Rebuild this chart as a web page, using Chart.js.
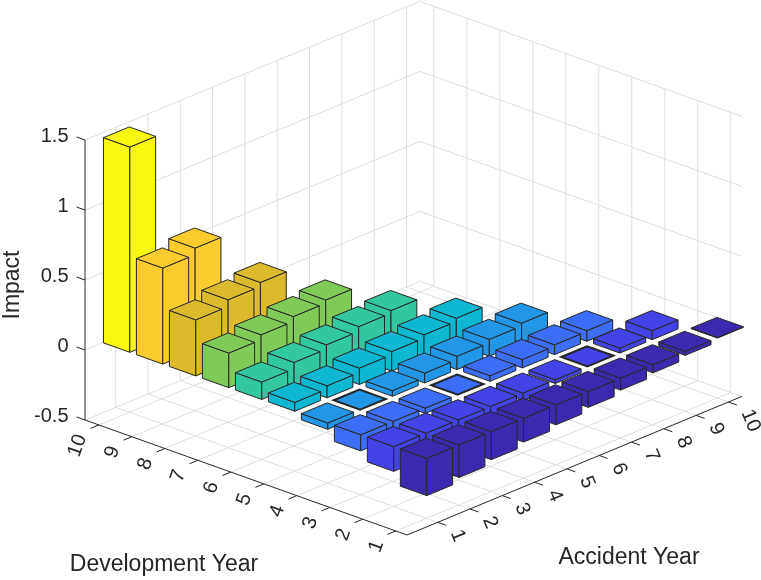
<!DOCTYPE html>
<html>
<head>
<meta charset="utf-8">
<script src="https://cdn.jsdelivr.net/npm/chart.js@4.4.1/dist/chart.umd.min.js"></script>
<style>
html,body{margin:0;padding:0;background:#ffffff;}
#wrap{width:761px;height:580px;position:relative;}
</style>
</head>
<body>
<div id="wrap"><canvas id="c" width="761" height="580"></canvas></div>
<script>
// ---------------- data ----------------
const accidentYears = [1,2,3,4,5,6,7,8,9,10];
const developmentYears = [1,2,3,4,5,6,7,8,9,10];
const accidentTickLabels = ['1','2','3','4','5','6','7','8','9','10'];
const developmentTickLabels = ['1','2','3','4','5','6','7','8','9','10'];
const impactTicks = [-0.5, 0, 0.5, 1, 1.5];
const impactTickLabels = ['-0.5','0','0.5','1','1.5'];

// Impact per development year, listed by accident year 1, 2, 3, ...
const impactDev1  = [-0.266,-0.232,-0.200,-0.170,-0.142,-0.113,-0.085,-0.057,-0.028,0.004];
const impactDev2  = [-0.177,-0.145,-0.115,-0.085,-0.055,-0.027,0,0.035,0.064];
const impactDev3  = [-0.115,-0.077,-0.038,0,0.040,0.060,0.070,0.075];
const impactDev4  = [-0.045,0,0.040,0.070,0.095,0.120,0.140];
const impactDev5  = [0.063,0.086,0.117,0.140,0.164,0.187];
const impactDev6  = [0.124,0.169,0.199,0.234,0.253];
const impactDev7  = [0.247,0.282,0.317,0.340];
const impactDev8  = [0.400,0.448,0.476];
const impactDev9  = [0.686,0.733];
const impactDev10 = [1.466];

const devColors = ['#3B2AAD','#4343E8','#3C6EFA','#2396E6','#0DB6D1',
                   '#33C7A0','#7FCB58','#DDBA2B','#FCCC2F','#F8F80F'];

// ---------------- styling / layout ----------------
const EDGE = '#262626';
const GRID = '#dedede';
const AXIS = '#262626';
const TEXT = '#262626';
const FONT = '"Liberation Sans", Arial, Helvetica, sans-serif';
const BAR_WIDTH = 0.8;
// screen geometry of the 3-D box (front floor corner and edge vectors, px)
const BOX = { front:{x:407,y:535}, acc:{x:335,y:-138.6}, dev:{x:-322,y:-115}, z:{x:0,y:-280} };

const impactByDev = [impactDev1,impactDev2,impactDev3,impactDev4,impactDev5,
                     impactDev6,impactDev7,impactDev8,impactDev9,impactDev10];

const datasets = developmentYears.map((d,i)=>({
  label: 'Development Year ' + d,
  devYear: d,
  data: impactByDev[i].map((v,j)=>({x: accidentYears[j], y: v})),
  backgroundColor: devColors[i],
  borderColor: EDGE,
  pointRadius: 0,
  showLine: false,
  xAxisID: 'acc',
  yAxisID: 'z'
}));

function poly(ctx, pts, fill, stroke, lw){
  ctx.beginPath();
  ctx.moveTo(pts[0].x, pts[0].y);
  for(let i=1;i<pts.length;i++) ctx.lineTo(pts[i].x, pts[i].y);
  ctx.closePath();
  if(fill){ ctx.fillStyle = fill; ctx.fill(); }
  if(stroke){ ctx.strokeStyle = stroke; ctx.lineWidth = lw; ctx.stroke(); }
}
function line(ctx, p, q, color, lw){
  ctx.beginPath(); ctx.moveTo(p.x,p.y); ctx.lineTo(q.x,q.y);
  ctx.strokeStyle = color; ctx.lineWidth = lw; ctx.stroke();
}
function unit(v){ const l=Math.hypot(v.x,v.y); return {x:v.x/l,y:v.y/l}; }
// fraction of a scale's range, taken from the scale's own pixel mapping
function frac(scale, v){
  const p0 = scale.getPixelForValue(scale.min), p1 = scale.getPixelForValue(scale.max);
  return (scale.getPixelForValue(v) - p0) / (p1 - p0);
}

const bar3Plugin = {
  id: 'bar3',
  afterDatasetsDraw(chart){
    const ctx = chart.ctx;
    const sA = chart.scales.acc, sD = chart.scales.dev, sZ = chart.scales.z;
    const ca = chart.chartArea;
    const P = (a,d,z)=>{
      const fa = frac(sA,a), fd = frac(sD,d), fz = frac(sZ,z);
      return { x: ca.left + BOX.front.x + fa*BOX.acc.x + fd*BOX.dev.x + fz*BOX.z.x,
               y: ca.top  + BOX.front.y + fa*BOX.acc.y + fd*BOX.dev.y + fz*BOX.z.y };
    };
    const aMin=sA.min, aMax=sA.max, dMin=sD.min, dMax=sD.max, zMin=sZ.min, zMax=sZ.max;
    ctx.save();
    ctx.lineCap = 'butt';
    // ---- grid: floor ----
    accidentYears.forEach(a=>line(ctx,P(a,dMin,zMin),P(a,dMax,zMin),GRID,1));
    developmentYears.forEach(d=>line(ctx,P(aMin,d,zMin),P(aMax,d,zMin),GRID,1));
    // back-left wall (d = dMax)
    accidentYears.forEach(a=>line(ctx,P(a,dMax,zMin),P(a,dMax,zMax),GRID,1));
    impactTicks.forEach(z=>line(ctx,P(aMin,dMax,z),P(aMax,dMax,z),GRID,1));
    // back-right wall (a = aMax)
    developmentYears.forEach(d=>line(ctx,P(aMax,d,zMin),P(aMax,d,zMax),GRID,1));
    impactTicks.forEach(z=>line(ctx,P(aMax,dMin,z),P(aMax,dMax,z),GRID,1));

    // ---- bars ----
    const bars = [];
    chart.data.datasets.forEach(ds=>{
      ds.data.forEach(pt=>bars.push({a:pt.x, d:ds.devYear, v:pt.y, color:ds.backgroundColor}));
    });
    bars.sort((p,q)=>(q.a+q.d)-(p.a+p.d));
    ctx.lineJoin = 'miter';
    const h = BAR_WIDTH/2;
    bars.forEach(b=>{
      const z0=Math.min(0,b.v), z1=Math.max(0,b.v);
      const a0=b.a-h, a1=b.a+h, d0=b.d-h, d1=b.d+h;
      const lw = (b.v===0)?2:1;
      if(z1>z0){
        poly(ctx,[P(a0,d0,z0),P(a0,d1,z0),P(a0,d1,z1),P(a0,d0,z1)],b.color,EDGE,lw);
        poly(ctx,[P(a0,d0,z0),P(a1,d0,z0),P(a1,d0,z1),P(a0,d0,z1)],b.color,EDGE,lw);
      }
      poly(ctx,[P(a0,d0,z1),P(a1,d0,z1),P(a1,d1,z1),P(a0,d1,z1)],b.color,EDGE,lw);
    });

    // ---- axes ----
    const uA = unit(BOX.acc), uD = unit(BOX.dev);
    const TL = 9;
    line(ctx,P(aMin,dMax,zMin),P(aMin,dMax,zMax),AXIS,1);
    line(ctx,P(aMin,dMin,zMin),P(aMin,dMax,zMin),AXIS,1);
    line(ctx,P(aMin,dMin,zMin),P(aMax,dMin,zMin),AXIS,1);

    ctx.fillStyle = TEXT;
    // z ticks
    ctx.font = '20px ' + FONT;
    ctx.textAlign = 'right'; ctx.textBaseline = 'middle';
    impactTicks.forEach((z,i)=>{
      const p = P(aMin,dMax,z);
      const q = {x:p.x+uD.x*TL, y:p.y+uD.y*TL};
      line(ctx,p,q,AXIS,1);
      ctx.fillText(impactTickLabels[i], q.x-8, q.y);
    });
    // development ticks (front-left edge)
    const angD = Math.atan2(BOX.dev.y,BOX.dev.x) + Math.PI/2;
    developmentYears.forEach((d,i)=>{
      const p = P(aMin,d,zMin);
      const q = {x:p.x-uA.x*TL, y:p.y-uA.y*TL};
      line(ctx,p,q,AXIS,1);
      const t = {x:p.x-uA.x*19, y:p.y-uA.y*19+3};
      ctx.save(); ctx.translate(t.x,t.y); ctx.rotate(angD);
      ctx.textAlign='right'; ctx.textBaseline='middle';
      ctx.fillText(developmentTickLabels[i],0,0);
      ctx.restore();
    });
    // accident ticks (front-right edge)
    const angA = Math.atan2(BOX.acc.y,BOX.acc.x) + Math.PI/2;
    accidentYears.forEach((a,i)=>{
      const p = P(a,dMin,zMin);
      const q = {x:p.x-uD.x*TL, y:p.y-uD.y*TL};
      line(ctx,p,q,AXIS,1);
      const t = {x:p.x-uD.x*19, y:p.y-uD.y*19+2};
      ctx.save(); ctx.translate(t.x,t.y); ctx.rotate(angA);
      ctx.textAlign='left'; ctx.textBaseline='middle';
      ctx.fillText(accidentTickLabels[i],0,0);
      ctx.restore();
    });
    // axis titles
    ctx.font = '23px ' + FONT;
    ctx.textAlign='center'; ctx.textBaseline='middle';
    ctx.fillText('Development Year', 164, 565);
    ctx.fillText('Accident Year', 629, 558);
    ctx.save(); ctx.translate(13, 285); ctx.rotate(-Math.PI/2);
    ctx.fillText('Impact', 0, 0);
    ctx.restore();
    ctx.restore();
  }
};

new Chart(document.getElementById('c'), {
  type: 'scatter',
  data: { datasets },
  options: {
    responsive: false,
    maintainAspectRatio: false,
    devicePixelRatio: 1,
    animation: false,
    events: [],
    layout: { padding: 0 },
    plugins: { legend: { display:false }, tooltip: { enabled:false }, title:{display:false} },
    scales: {
      acc: { type:'linear', axis:'x', position:'bottom', min:0.05, max:10.42, display:false },
      dev: { type:'linear', axis:'x', position:'top', min:0.66, max:10.42, display:false },
      z:   { type:'linear', axis:'y', position:'left', min:-0.5, max:1.5, display:false }
    }
  },
  plugins: [bar3Plugin]
});
</script>
</body>
</html>
